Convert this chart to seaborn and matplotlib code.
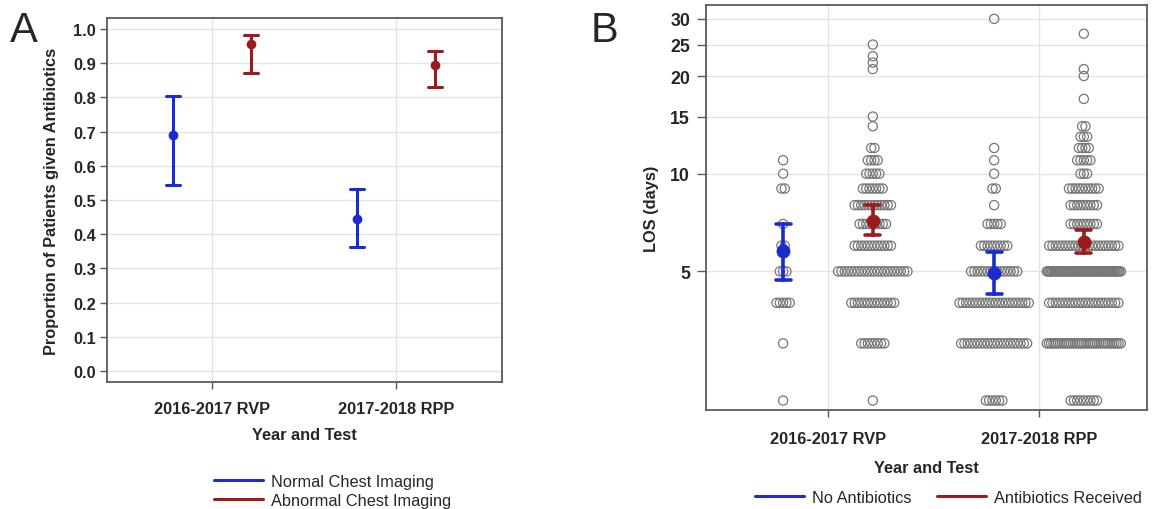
# Figura: antibióticos por imagen de tórax (A) y estancia hospitalaria (B)
import numpy as np
import pandas as pd
import matplotlib
matplotlib.use("Agg")
import matplotlib.pyplot as plt
from matplotlib.lines import Line2D
from matplotlib.ticker import FixedLocator, FormatStrFormatter, NullLocator
import seaborn as sns

# --- categorías ---
YEARS = ["2016-2017 RVP", "2017-2018 RPP"]
IMAGING = ["Normal Chest Imaging", "Abnormal Chest Imaging"]
ABX = ["No Antibiotics", "Antibiotics Received"]

# --- Panel A: proporción con antibióticos (estimado e IC) ---
prop_normal = [0.690, 0.445]
prop_normal_lo = [0.545, 0.363]
prop_normal_hi = [0.803, 0.532]
prop_abnormal = [0.955, 0.895]
prop_abnormal_lo = [0.870, 0.829]
prop_abnormal_hi = [0.982, 0.937]

# --- Panel B: LOS medio (estimado e IC) ---
los_no_abx = [5.76, 4.93]
los_no_abx_lo = [4.69, 4.25]
los_no_abx_hi = [7.00, 5.72]
los_abx = [7.17, 6.18]
los_abx_lo = [6.45, 5.68]
los_abx_hi = [8.02, 6.72]

# --- Panel B: pacientes individuales (días de estancia y número de pacientes) ---
rvp_no_days = [2, 3, 4, 5, 6, 7, 9, 10, 11]
rvp_no_n = [1, 1, 5, 3, 2, 1, 2, 1, 1]
rvp_abx_days = [2, 3, 4, 5, 6, 7, 8, 9, 10, 11, 12, 14, 15, 21, 22, 23, 25]
rvp_abx_n = [1, 8, 14, 22, 12, 9, 12, 7, 5, 4, 2, 1, 1, 1, 1, 1, 1]
rpp_no_days = [2, 3, 4, 5, 6, 7, 8, 9, 10, 11, 12, 30]
rpp_no_n = [6, 21, 22, 15, 9, 5, 1, 2, 1, 1, 1, 1]
rpp_abx_days = [2, 3, 4, 5, 6, 7, 8, 9, 10, 11, 12, 13, 14, 17, 20, 21, 27]
rpp_abx_n = [9, 35, 22, 55, 22, 9, 9, 10, 3, 5, 4, 3, 2, 1, 1, 1, 1]

# --- estilo ---
AZUL = "#1a2bd0"
ROJO = "#9b1c1f"
GRIS_GRID = "#e4e4e4"
GRIS_MARCO = "#5a5a5a"
DODGE = 0.425
PASO = 3.3 / 211       # separación entre círculos (unidades de categoría)
ANCHO_MAX = 74 / 211   # ancho máximo de una fila de círculos

sns.set_style("white")
plt.rcParams["font.family"] = ["Liberation Sans", "DejaVu Sans"]
plt.rcParams["font.size"] = 11.8


def tabla_ic(grupos, series):
    # cada grupo aporta tres filas (lo, est, hi): mediana = est, min/max = IC
    filas = []
    for g, (est, lo, hi) in zip(grupos, series):
        for i, year in enumerate(YEARS):
            for v in (lo[i], est[i], hi[i]):
                filas.append({"year": year, "grupo": g, "valor": v})
    return pd.DataFrame(filas)


def estilo_ejes(ax, pad_x, pad_y):
    for s in ax.spines.values():
        s.set_color(GRIS_MARCO)
        s.set_linewidth(1.3)
    ax.tick_params(axis="both", which="major", direction="out", length=5,
                   width=1, color=GRIS_MARCO, labelsize=11.8,
                   bottom=True, left=True, top=False, right=False)
    ax.tick_params(axis="x", pad=pad_x)
    ax.tick_params(axis="y", pad=pad_y)
    for lab in ax.get_xticklabels() + ax.get_yticklabels():
        lab.set_fontweight("bold")
    ax.grid(True, color=GRIS_GRID, linewidth=1)
    ax.set_axisbelow(True)


fig = plt.figure(figsize=(11.53, 5.10), dpi=100)

# ===============================
# Panel A
# ===============================
axA = fig.add_axes([107 / 1153, 1 - 383 / 510, 395 / 1153, 364 / 510])
df_a = tabla_ic(IMAGING, [(prop_normal, prop_normal_lo, prop_normal_hi),
                          (prop_abnormal, prop_abnormal_lo, prop_abnormal_hi)])
sns.pointplot(data=df_a, x="year", y="valor", hue="grupo", order=YEARS,
              hue_order=IMAGING, palette=[AZUL, ROJO], estimator="median",
              errorbar=lambda v: (v.min(), v.max()), dodge=DODGE,
              markers="o", linestyles="none", capsize=0.075,
              err_kws={"linewidth": 2.2}, markersize=7, markeredgewidth=0,
              legend=False, ax=axA)
axA.set_ylim(-0.032, 1.032)
axA.set_xlim(-0.571, 1.576)
axA.yaxis.set_major_locator(FixedLocator(np.round(np.arange(0, 1.01, 0.1), 1)))
axA.yaxis.set_major_formatter(FormatStrFormatter("%.1f"))
axA.set_xlabel("Year and Test", fontweight="bold", labelpad=8)
axA.set_ylabel("Proportion of Patients given Antibiotics", fontweight="bold", labelpad=10)
estilo_ejes(axA, pad_x=8.5, pad_y=3)

handles_a = [Line2D([], [], color=AZUL, linewidth=2.2),
             Line2D([], [], color=ROJO, linewidth=2.2)]
fig.legend(handles_a, IMAGING, loc="upper left",
           bbox_to_anchor=(214 / 1153, 1 - 475 / 510), frameon=False,
           borderpad=0, borderaxespad=0, handlelength=3.0,
           handletextpad=0.45, labelspacing=0.25, fontsize=11.8)

# ===============================
# Panel B
# ===============================
axB = fig.add_axes([706 / 1153, 1 - 411 / 510, 441 / 1153, 405 / 510])
axB.set_yscale("log")

df_b = tabla_ic(ABX, [(los_no_abx, los_no_abx_lo, los_no_abx_hi),
                      (los_abx, los_abx_lo, los_abx_hi)])
sns.pointplot(data=df_b, x="year", y="valor", hue="grupo", order=YEARS,
              hue_order=ABX, palette=[AZUL, ROJO], estimator="median",
              errorbar=lambda v: (v.min(), v.max()), dodge=DODGE,
              markers="o", linestyles="none", capsize=0.072,
              err_kws={"linewidth": 2.6}, markersize=10, markeredgewidth=0,
              legend=False, ax=axB)


def posiciones(days, counts, centro):
    xs, ys = [], []
    for d, n in zip(days, counts):
        paso = PASO if n < 2 else min(PASO, ANCHO_MAX / (n - 1))
        xs.extend(centro + (np.arange(n) - (n - 1) / 2) * paso)
        ys.extend([d] * n)
    return xs, ys


grupos_swarm = [
    (rvp_no_days, rvp_no_n, 0 - DODGE / 2),
    (rvp_abx_days, rvp_abx_n, 0 + DODGE / 2),
    (rpp_no_days, rpp_no_n, 1 - DODGE / 2),
    (rpp_abx_days, rpp_abx_n, 1 + DODGE / 2),
]
xs_all, ys_all = [], []
for days, counts, centro in grupos_swarm:
    xs, ys = posiciones(days, counts, centro)
    xs_all += xs
    ys_all += ys
df_swarm = pd.DataFrame({"xpos": xs_all, "los": ys_all})
sns.scatterplot(data=df_swarm, x="xpos", y="los", s=44, facecolors="none",
                edgecolor="#777777", linewidth=0.9, zorder=1, ax=axB)

axB.set_ylim(1.87, 33.1)
axB.set_xlim(-0.578, 1.512)
axB.xaxis.set_major_locator(FixedLocator([0, 1]))
axB.set_xticklabels(YEARS)
axB.yaxis.set_major_locator(FixedLocator([5, 10, 15, 20, 25, 30]))
axB.yaxis.set_major_formatter(FormatStrFormatter("%d"))
axB.yaxis.set_minor_locator(NullLocator())
axB.set_xlabel("Year and Test", fontweight="bold", labelpad=10)
axB.set_ylabel("LOS (days)", fontweight="bold", labelpad=8)
estilo_ejes(axB, pad_x=10, pad_y=5)
axB.tick_params(axis="y", length=6.5, labelsize=12.8)

handles_b = [Line2D([], [], color=AZUL, linewidth=2.2),
             Line2D([], [], color=ROJO, linewidth=2.2)]
fig.legend(handles_b, ABX, loc="upper left", ncol=2,
           bbox_to_anchor=(755 / 1153, 1 - 491 / 510), frameon=False,
           borderpad=0, borderaxespad=0, handlelength=3.0,
           handletextpad=0.45, columnspacing=1.6, fontsize=11.8)

# etiquetas de panel
fig.text(10 / 1153, 1 - 42 / 510, "A", fontsize=30)
fig.text(591 / 1153, 1 - 42 / 510, "B", fontsize=30)

fig.savefig("out.png", dpi=100)
plt.close(fig)
